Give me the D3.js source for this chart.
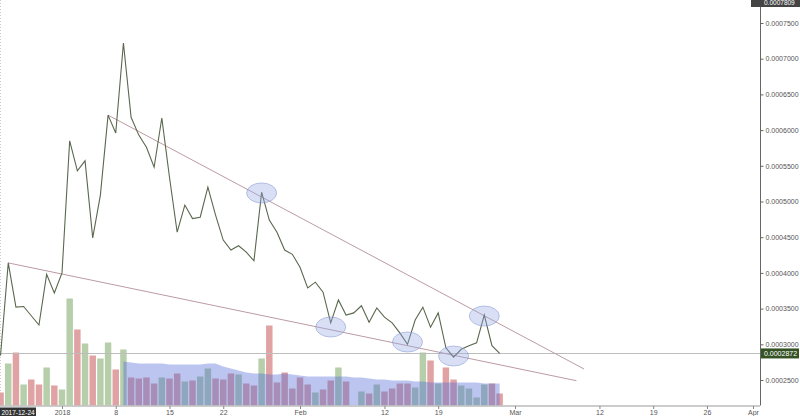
<!DOCTYPE html>
<html><head><meta charset="utf-8">
<script src="https://cdn.jsdelivr.net/npm/d3@7"></script>
<style>
body{margin:0;background:#fff;}
svg{display:block;font-family:"Liberation Sans",Arial,sans-serif;}
</style>
</head><body>
<svg id="c" width="800" height="416"></svg>
<script>
// ---------- data ----------
const startDate = "2017-12-23"; // first daily close (consecutive days follow)
const prices = [
  0.000292, 0.000285, 0.000414, 0.000352, 0.000353, 0.000340, 0.000327, 0.000398, 0.000372,
  0.000400, 0.000585, 0.000543, 0.000557, 0.000449, 0.000509, 0.000621, 0.000596, 0.000722,
  0.000618, 0.000593, 0.000576, 0.000548, 0.000617, 0.000534, 0.000457, 0.000495, 0.000476,
  0.000478, 0.000520, 0.000481, 0.000446, 0.000432, 0.000438, 0.000429, 0.000417, 0.000513,
  0.000474, 0.000457, 0.000432, 0.000426,
  0.000408, 0.000379, 0.000387, 0.000373, 0.000330, 0.000362, 0.000341, 0.000344, 0.000354,
  0.000331, 0.000351, 0.000338, 0.000330, 0.000316, 0.000300, 0.000334, 0.000352, 0.000324,
  0.000344, 0.000295, 0.000282, 0.000293, 0.000298, 0.000302, 0.000341, 0.000298, 0.0002872
];
const volumes = [
  20, 13, 42, 53, 21, 26, 21, 38, 20,
  16, 107, 76, 62, 50, 47, 63, 36, 56, 28, 27, 28, 22, 28, 27, 32, 24, 25, 29, 37, 27, 26,
  32, 31, 22, 20, 47, 80, 23, 33, 17,
  28, 21, 13, 16, 25, 38, 24, 0, 14, 12, 21, 14, 17, 22, 22, 18, 53, 45, 22, 38, 26, 20,
  17, 8, 21, 22, 12
];
const volMAStart = "2018-01-09";
const volMA = [
  44, 43, 42, 42, 42, 42, 41, 41, 41, 41, 41, 42, 42, 39, 37, 35, 33, 32, 32, 31, 31, 32, 31,
  30, 29, 29, 29, 29, 29, 29, 28, 28, 27, 26, 26, 25, 25, 25, 24, 24, 23, 23, 23, 23, 23, 23,
  23, 22, 22, 22
];
const priceTicks = [0.00025, 0.0003, 0.00035, 0.0004, 0.00045, 0.0005, 0.00055, 0.0006, 0.00065, 0.0007, 0.00075];
const timeTickDates = ["2018-01-01","2018-01-08","2018-01-15","2018-01-22","2018-02-01","2018-02-12",
  "2018-02-19","2018-03-01","2018-03-12","2018-03-19","2018-03-26","2018-04-01"];
const timeTickLabels = ["2018","8","15","22","Feb","12","19","Mar","12","19","26","Apr"];
const lastPrice = 0.0002872;
const highPrice = 0.0007809;
const crosshairDate = "2017-12-24";
const crosshairLabel = "2017-12-24";
const trendUpper = [["2018-01-07", 0.000621], ["2018-03-10", 0.0002654]];
const trendLower = [["2017-12-25", 0.000414], ["2018-03-09", 0.000249]];
const markedPoints = [
  ["2018-01-27", 0.000512], ["2018-02-05", 0.0003242], ["2018-02-15", 0.0003032],
  ["2018-02-21", 0.0002836], ["2018-02-25", 0.0003396]
];

// ---------- setup ----------
const parse = d3.utcParse("%Y-%m-%d");
const dayMs = 864e5;
const t0 = parse(startDate);
const series = prices.map((p, i) => ({
  date: new Date(+t0 + i * dayMs), price: p, vol: volumes[i],
  up: i === 0 ? true : p >= prices[i - 1]
}));
const maT0 = parse(volMAStart);
const maSeries = volMA.map((v, i) => ({ date: new Date(+maT0 + i * dayMs), v }));

const plotR = 760, plotB = 405.5;
const x = d3.scaleUtc().domain([parse("2018-01-01"), parse("2018-04-01")]).range([62, 753]);
const yP = d3.scaleLinear().domain([0.00025, 0.00075]).range([380, 23]);
const yV = d3.scaleLinear().domain([0, 100]).range([plotB, plotB - 100]);
const dayW = x(parse("2018-01-02")) - x(parse("2018-01-01"));
const barW = dayW * 0.84;

const svg = d3.select("#c");
svg.append("defs").append("clipPath").attr("id", "plot")
  .append("rect").attr("x", 0).attr("y", 0).attr("width", plotR).attr("height", plotB);

const plot = svg.append("g").attr("clip-path", "url(#plot)");

// left dotted edge
plot.append("line").attr("x1", 0.5).attr("x2", 0.5).attr("y1", 0).attr("y2", plotB)
  .attr("stroke", "#ccc").attr("stroke-dasharray", "1,2");

// volume bars
plot.append("g").selectAll("rect").data(series).join("rect")
  .attr("x", d => x(d.date) - barW / 2)
  .attr("width", barW)
  .attr("y", d => yV(d.vol))
  .attr("height", d => plotB - yV(d.vol))
  .attr("fill", d => d.up ? "rgb(182,206,170)" : "rgb(224,162,162)");

// volume average area
plot.append("path").datum(maSeries)
  .attr("d", d3.area().x(d => x(d.date)).y0(plotB).y1(d => yV(d.v)))
  .attr("fill", "rgb(85,110,215)").attr("fill-opacity", 0.4);

// last price horizontal line
plot.append("line").attr("x1", 0).attr("x2", plotR)
  .attr("y1", Math.round(yP(lastPrice)) + 0.5).attr("y2", Math.round(yP(lastPrice)) + 0.5)
  .attr("stroke", "#bdbdbd").attr("stroke-width", 1);

// trendlines
const tl = d3.line().x(d => x(parse(d[0]))).y(d => yP(d[1]));
[trendUpper, trendLower].forEach(t => {
  plot.append("path").attr("d", tl(t)).attr("fill", "none")
    .attr("stroke", "rgb(188,155,162)").attr("stroke-width", 1);
});

// price line
plot.append("path").datum(series)
  .attr("d", d3.line().x(d => x(d.date)).y(d => yP(d.price)))
  .attr("fill", "none").attr("stroke", "#5a684e").attr("stroke-width", 1.1)
  .attr("stroke-linejoin", "miter");

// marked ellipses
plot.append("g").selectAll("ellipse").data(markedPoints).join("ellipse")
  .attr("cx", d => x(parse(d[0]))).attr("cy", d => yP(d[1]))
  .attr("rx", 15).attr("ry", 10)
  .attr("fill", "rgb(150,170,230)").attr("fill-opacity", 0.36)
  .attr("stroke", "rgb(125,145,205)").attr("stroke-opacity", 0.5).attr("stroke-width", 1);

// ---------- axes ----------
const axisColor = "#666";
svg.append("line").attr("x1", plotR + 0.5).attr("x2", plotR + 0.5).attr("y1", 0).attr("y2", plotB)
  .attr("stroke", axisColor);
svg.append("line").attr("x1", 0).attr("x2", plotR).attr("y1", plotB + 0.5).attr("y2", plotB + 0.5)
  .attr("stroke", "#999");

const ay = svg.append("g").attr("transform", `translate(${plotR + 0.5},0)`)
  .call(d3.axisRight(yP).tickValues(priceTicks).tickFormat(d3.format(".7f")).tickSize(3).tickPadding(2));
ay.select(".domain").remove();
ay.selectAll("line").attr("stroke", axisColor);
ay.selectAll("text").attr("fill", "#555").style("font-size", "7px");

const ax = svg.append("g").attr("transform", `translate(0,${plotB + 0.5})`)
  .call(d3.axisBottom(x).tickValues(timeTickDates.map(parse))
    .tickFormat((d, i) => timeTickLabels[i]).tickSize(3).tickPadding(1.5));
ax.select(".domain").remove();
ax.selectAll("line").attr("stroke", "#888");
ax.selectAll("text").attr("fill", "#555").style("font-size", "7px");

// ---------- labels ----------
// last price label
const lpY = yP(lastPrice);
svg.append("rect").attr("x", plotR + 1).attr("y", lpY - 5).attr("width", 38).attr("height", 10)
  .attr("fill", "rgb(52,82,36)");
svg.append("text").attr("x", plotR + 4).attr("y", lpY).attr("dy", "0.35em")
  .attr("fill", "#fff").style("font-size", "7px").text(d3.format(".7f")(lastPrice));

// high price label (top edge)
const hpY = Math.max(yP(highPrice), 3);
svg.append("rect").attr("x", plotR - 9).attr("y", 0).attr("width", 50).attr("height", hpY + 4)
  .attr("fill", "#444");
svg.append("text").attr("x", plotR + 4).attr("y", hpY).attr("dy", "0.35em")
  .attr("fill", "#fff").style("font-size", "6.5px").text(d3.format(".7f")(highPrice));

// crosshair date label (clamped to left edge)
const chW = 36;
const chX = Math.max(0, x(parse(crosshairDate)) - chW / 2);
svg.append("rect").attr("x", chX).attr("y", plotB + 2).attr("width", chW).attr("height", 11)
  .attr("fill", "#333");
svg.append("text").attr("x", chX + chW / 2).attr("y", plotB + 7.5).attr("dy", "0.35em")
  .attr("text-anchor", "middle").attr("fill", "#fff").style("font-size", "6.5px").text(crosshairLabel);
</script>
</body></html>
